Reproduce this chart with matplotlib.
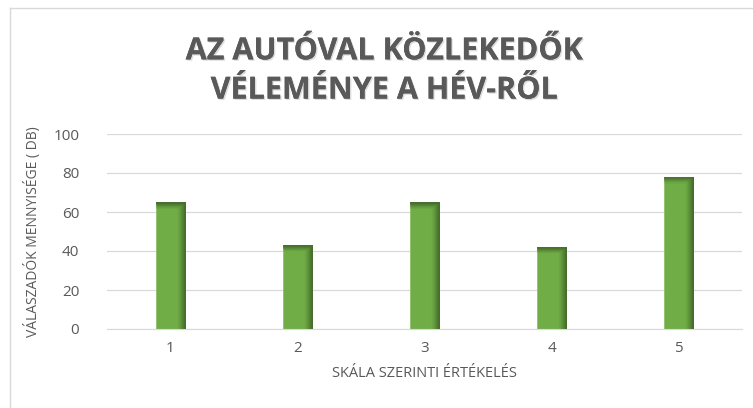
import matplotlib
matplotlib.use('Agg')
import matplotlib.pyplot as plt
import matplotlib.patheffects as pe
from matplotlib.lines import Line2D
import numpy as np

plt.rcParams['font.family'] = ['Open Sans', 'DejaVu Sans']

# data
categories = ['1', '2', '3', '4', '5']
values = [65, 43, 65, 42, 78]
yticks = [0, 20, 40, 60, 80, 100]

title = 'AZ AUTÓVAL KÖZLEKEDŐK\nVÉLEMÉNYE A HÉV-RŐL'
xlabel = 'SKÁLA SZERINTI ÉRTÉKELÉS'
ylabel = 'VÁLASZADÓK MENNYISÉGE ( DB)'

W, H = 753, 408
fig = plt.figure(figsize=(W / 100, H / 100), dpi=100)
ax = fig.add_axes([107 / W, 1 - 329 / H, (742 - 107) / W, (329 - 134) / H])

x = np.arange(len(categories))
bars = ax.bar(x, values, width=0.23, color='#70AD47', edgecolor='#8cc06a',
              linewidth=0.6, zorder=2)

# shading like the 3D office bars: darker right side and top
cols = np.linspace(0, 1, 40)
dark = np.array([0.22, 0.36, 0.13])
alpha_x = np.clip((cols - 0.7) / 0.3, 0, 1) ** 1.3 * 0.85
for b in bars:
    x0, w = b.get_x(), b.get_width()
    h = b.get_height()
    img = np.zeros((60, 40, 4))
    img[..., :3] = dark
    ys = np.linspace(h, 0, 60)
    top_a = np.clip((ys - (h - 3.0)) / 3.0, 0, 1) * 0.8
    img[..., 3] = np.maximum(np.tile(alpha_x, (60, 1)), top_a[:, None])
    im = ax.imshow(img, extent=[x0, x0 + w, 0, h], aspect='auto', zorder=3,
                   interpolation='bilinear')
    im.set_clip_path(b)

ax.set_xlim(-0.5, len(categories) - 0.5)
ax.set_ylim(0, 100)
ax.set_yticks(yticks)
ax.set_xticks(x)
ax.set_xticklabels(categories)
ax.yaxis.grid(True, color='#d9d9d9', linewidth=0.9, zorder=0)
ax.set_axisbelow(True)
for s in ['top', 'right', 'left']:
    ax.spines[s].set_visible(False)
ax.spines['bottom'].set_color('#d9d9d9')
ax.tick_params(axis='both', length=0, labelsize=11, colors='#595959')
ax.tick_params(axis='y', pad=20)
ax.tick_params(axis='x', pad=9)

ax.set_xlabel(xlabel, fontsize=10.5, color='#595959', labelpad=7)
ax.set_ylabel(ylabel, fontsize=10, color='#595959', labelpad=9)

fig.text(384 / W, 1 - 71 / H, title, ha='center', va='center',
         fontsize=22, fontweight='bold', color='#595959', linespacing=1.4,
         path_effects=[pe.withSimplePatchShadow(offset=(1, -1), alpha=0.15),
                       pe.Normal()])

# chart border (cropped screenshot: only left and top visible)
fig.add_artist(Line2D([10 / W, 10 / W], [0, 1 - 8 / H], transform=fig.transFigure,
                      color='#d9d9d9', linewidth=1))
fig.add_artist(Line2D([10 / W, 1], [1 - 8 / H, 1 - 8 / H], transform=fig.transFigure,
                      color='#d9d9d9', linewidth=1))

fig.savefig('out.png', dpi=100)
